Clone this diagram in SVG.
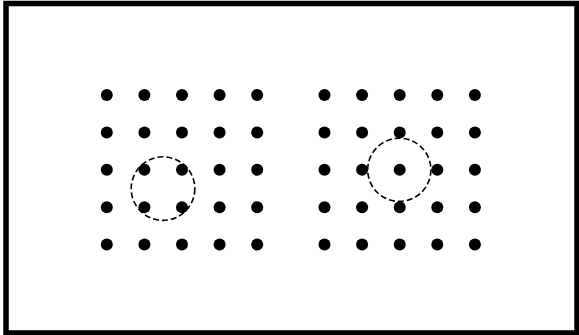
<svg xmlns="http://www.w3.org/2000/svg" width="579" height="335" viewBox="0 0 579 335">
<defs>
<style>
.dot{fill:#000}
.ring{fill:none;stroke:#000;stroke-width:1.6;stroke-dasharray:6 3}
</style>
<g id="row">
<circle class="dot" cx="0" cy="0" r="6"/>
<circle class="dot" cx="37.6" cy="0" r="6"/>
<circle class="dot" cx="75.2" cy="0" r="6"/>
<circle class="dot" cx="112.8" cy="0" r="6"/>
<circle class="dot" cx="150.4" cy="0" r="6"/>
</g>
<g id="grid">
<use href="#row" y="0"/>
<use href="#row" y="37.4"/>
<use href="#row" y="74.8"/>
<use href="#row" y="112.2"/>
<use href="#row" y="149.6"/>
</g>
</defs>
<rect x="0" y="0" width="579" height="335" fill="#fff"/>
<rect x="6" y="3.5" width="571" height="329.5" fill="none" stroke="#000" stroke-width="5.5"/>
<g id="left-lattice">
<use href="#grid" x="106.8" y="95"/>
<circle class="ring" cx="163" cy="188.6" r="31.8"/>
</g>
<g id="right-lattice">
<use href="#grid" x="324.5" y="95"/>
<circle class="ring" cx="399.3" cy="169.8" r="31.6"/>
</g>
</svg>
